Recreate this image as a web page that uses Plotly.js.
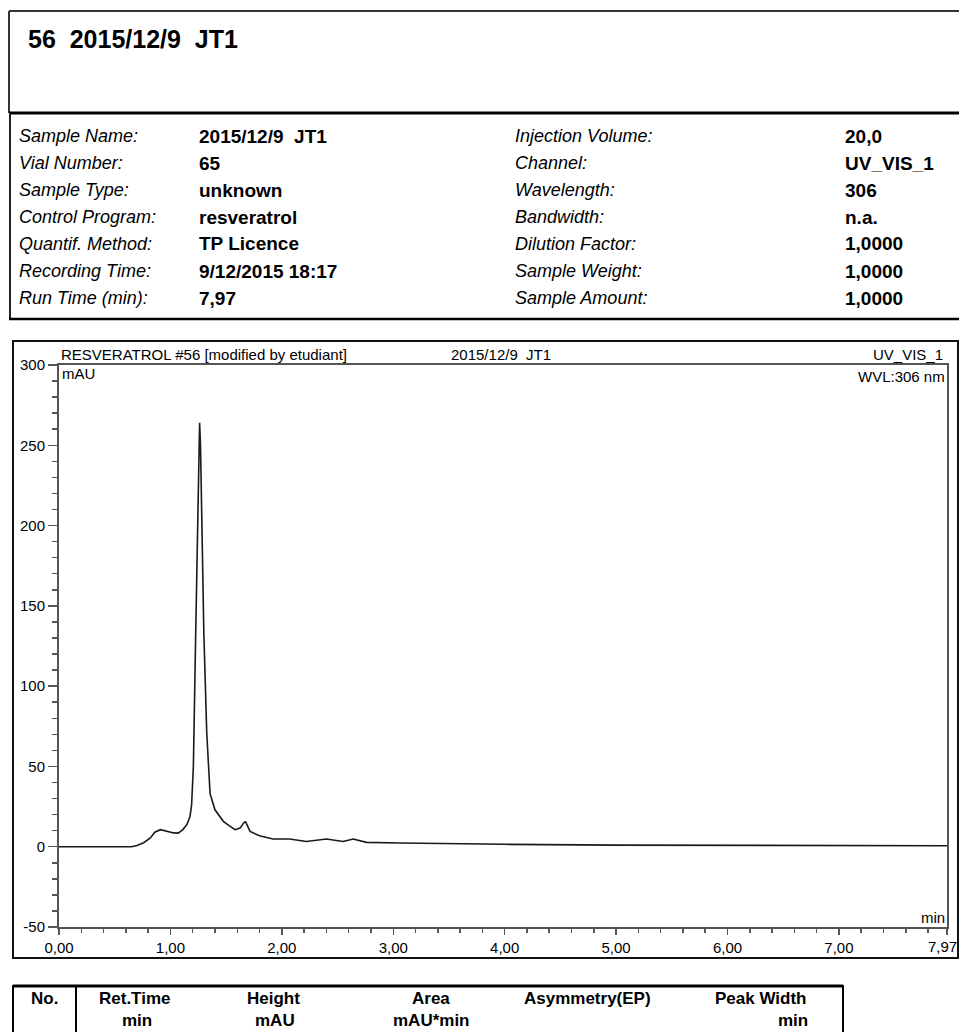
<!DOCTYPE html>
<html>
<head>
<meta charset="utf-8">
<script src="https://cdn.plot.ly/plotly-3.0.1.min.js"></script>
<style>
html,body{margin:0;padding:0;background:#fff;}
#chart{width:959px;height:1032px;}
</style>
</head>
<body>
<div id="chart"></div>
<script>
// ---- data ----
const retentionTime = [0, 0.65, 0.70, 0.76, 0.82, 0.86, 0.91, 0.97, 1.03, 1.07, 1.11, 1.15, 1.176, 1.19, 1.206, 1.227, 1.245, 1.255, 1.262, 1.27, 1.28, 1.30, 1.326, 1.356, 1.40, 1.475, 1.53, 1.58, 1.625, 1.66, 1.675, 1.715, 1.80, 1.92, 2.07, 2.22, 2.40, 2.55, 2.64, 2.76, 3.06, 3.5, 4.0, 5.0, 6.0, 7.0, 7.97];
const absorbance    = [0, 0, 0.8, 2.5, 5.5, 9.0, 10.6, 9.6, 8.6, 8.5, 10.5, 14, 19, 26, 50, 133, 216, 255, 264, 250, 216, 133, 71, 33, 23, 15.8, 13, 10.6, 11.6, 15, 15.5, 9.5, 6.8, 4.8, 4.8, 3.3, 4.8, 3.3, 4.8, 2.7, 2.3, 1.8, 1.5, 1.0, 0.9, 0.7, 0.6];

const xTickVals = [0, 1, 2, 3, 4, 5, 6, 7, 7.97];
const xTickText = ["0,00", "1,00", "2,00", "3,00", "4,00", "5,00", "6,00", "7,00", "7,97"];
const yTickVals = [-50, 0, 50, 100, 150, 200, 250, 300];
const yTickText = ["-50", "0", "50", "100", "150", "200", "250", "300"];

const reportTitle = "56\u00a0\u00a02015/12/9\u00a0\u00a0JT1";
const leftLabels  = ["Sample Name:", "Vial Number:", "Sample Type:", "Control Program:", "Quantif. Method:", "Recording Time:", "Run Time (min):"];
const leftValues  = ["2015/12/9\u00a0\u00a0JT1", "65", "unknown", "resveratrol", "TP Licence", "9/12/2015 18:17", "7,97"];
const rightLabels = ["Injection Volume:", "Channel:", "Wavelength:", "Bandwidth:", "Dilution Factor:", "Sample Weight:", "Sample Amount:"];
const rightValues = ["20,0", "UV_VIS_1", "306", "n.a.", "1,0000", "1,0000", "1,0000"];

const chartHeaderLeft   = "RESVERATROL #56 [modified by etudiant]";
const chartHeaderMid    = "2015/12/9\u00a0\u00a0JT1";
const chartHeaderRight  = "UV_VIS_1";
const chartHeaderRight2 = "WVL:306 nm";

const tableHead1 = ["No.", "Ret.Time", "Height", "Area", "Asymmetry(EP)", "Peak Width"];
const tableHead2 = ["", "min", "mAU", "mAU*min", "", "min"];

// ---- layout helpers (pixel -> paper) ----
const W = 959, H = 1032;
const px = x => x / W;
const py = y => 1 - y / H;
const FONT = "Liberation Sans, Arial, sans-serif";

const shapes = [];
function line(x0, y0, x1, y1, w, c) {
  shapes.push({type: 'line', xref: 'paper', yref: 'paper', x0: px(x0), y0: py(y0), x1: px(x1), y1: py(y1),
    line: {color: c || '#000', width: w || 1}});
}
function rect(x0, y0, x1, y1, w, c) {
  shapes.push({type: 'rect', xref: 'paper', yref: 'paper', x0: px(x0), y0: py(y0), x1: px(x1), y1: py(y1),
    line: {color: c || '#000', width: w || 1}, fillcolor: 'rgba(0,0,0,0)'});
}
const annotations = [];
function txt(x, y, text, opts) {
  opts = opts || {};
  annotations.push({xref: 'paper', yref: 'paper', x: px(x), y: py(y), text: text, showarrow: false,
    xanchor: opts.xa || 'left', yanchor: 'middle',
    font: {family: FONT, size: opts.size || 14, color: opts.color || '#000',
      weight: opts.bold ? 'bold' : 'normal', style: opts.italic ? 'italic' : 'normal'}});
}

// header box
line(9, 11, 959, 11, 2, '#333');
line(9, 11, 9, 113, 2, '#333');
txt(26, 39, "<b>" + reportTitle + "</b>", {size: 25, bold: true});

// info box
line(9, 113, 959, 113, 3, '#000');
line(10, 113, 10, 319, 2, '#222');
line(9, 319, 959, 319, 2.5, '#000');
const rowY = [136, 163, 190, 217, 244, 271, 298];
rowY.forEach((y, i) => {
  txt(17, y, "<i>" + leftLabels[i] + "</i>", {size: 18, italic: true});
  txt(197, y, "<b>" + leftValues[i] + "</b>", {size: 19, bold: true});
  txt(513, y, "<i>" + rightLabels[i] + "</i>", {size: 18, italic: true});
  txt(843, y, "<b>" + rightValues[i] + "</b>", {size: 19, bold: true});
});

// chart frame
rect(13, 341, 958, 958, 2, '#111');
txt(59, 355, chartHeaderLeft, {size: 15});
txt(449, 355, chartHeaderMid, {size: 15});
txt(945, 355, chartHeaderRight, {size: 15, xa: 'right'});
txt(947, 376, chartHeaderRight2, {size: 15, xa: 'right'});
txt(60, 373, "mAU", {size: 15});
txt(947, 917, "min", {size: 15, xa: 'right'});

// bottom table
line(13, 986, 843, 986, 3, '#000');
line(13, 985, 13, 1032, 2, '#000');
line(76, 985, 76, 1032, 2, '#000');
line(843, 985, 843, 1032, 2, '#000');
const colX = [44, 135, 273, 431, 587, 760];
const col2X = [44, 137, 275, 431, 587, 793];
tableHead1.forEach((t, i) => txt(colX[i], 998, "<b>" + t + "</b>", {size: 17, bold: true, xa: 'center'}));
tableHead2.forEach((t, i) => { if (t) txt(col2X[i], 1020, "<b>" + t + "</b>", {size: 17, bold: true, xa: 'center'}); });

// last x tick label sits at the page edge: draw it right-aligned so it stays whole
const lastIdx = xTickText.length - 1;
const xTickTextShown = xTickText.map((t, i) => i === lastIdx ? "" : t);
txt(959, 946, xTickText[lastIdx], {size: 15, xa: 'right'});

const trace = {
  x: retentionTime, y: absorbance, type: 'scatter', mode: 'lines',
  line: {color: '#1a1a1a', width: 1.6}, hoverinfo: 'skip'
};

const axisColor = '#555';
const layout = {
  width: W, height: H,
  margin: {l: 0, r: 0, t: 0, b: 0, pad: 0},
  paper_bgcolor: '#fff', plot_bgcolor: '#fff',
  showlegend: false,
  xaxis: {
    domain: [px(59), px(947)],
    range: [0, 7.97], tickmode: 'array', tickvals: xTickVals, ticktext: xTickTextShown,
    ticks: 'outside', ticklen: 6, tickwidth: 1.5, tickcolor: axisColor,
    minor: {tickmode: 'linear', tick0: 0, dtick: 0.2, ticks: 'outside', ticklen: 4, tickwidth: 1.5, tickcolor: axisColor},
    showline: true, linecolor: axisColor, linewidth: 2, mirror: true,
    showgrid: false, zeroline: false, ticklabeloverflow: 'allow',
    tickfont: {family: FONT, size: 15, color: '#000'}, fixedrange: true
  },
  yaxis: {
    domain: [py(927), py(365)],
    range: [-50, 300], tickmode: 'array', tickvals: yTickVals, ticktext: yTickText,
    ticks: 'outside', ticklen: 9, tickwidth: 1.5, tickcolor: axisColor,
    minor: {tickmode: 'linear', tick0: 0, dtick: 10, ticks: 'outside', ticklen: 5, tickwidth: 1.5, tickcolor: axisColor},
    showline: true, linecolor: axisColor, linewidth: 2, mirror: true,
    showgrid: false, zeroline: false, ticklabeloverflow: 'allow',
    tickfont: {family: FONT, size: 15, color: '#000'}, fixedrange: true
  },
  shapes: shapes,
  annotations: annotations
};

Plotly.newPlot('chart', [trace], layout, {displayModeBar: false, staticPlot: true});
</script>
</body>
</html>
